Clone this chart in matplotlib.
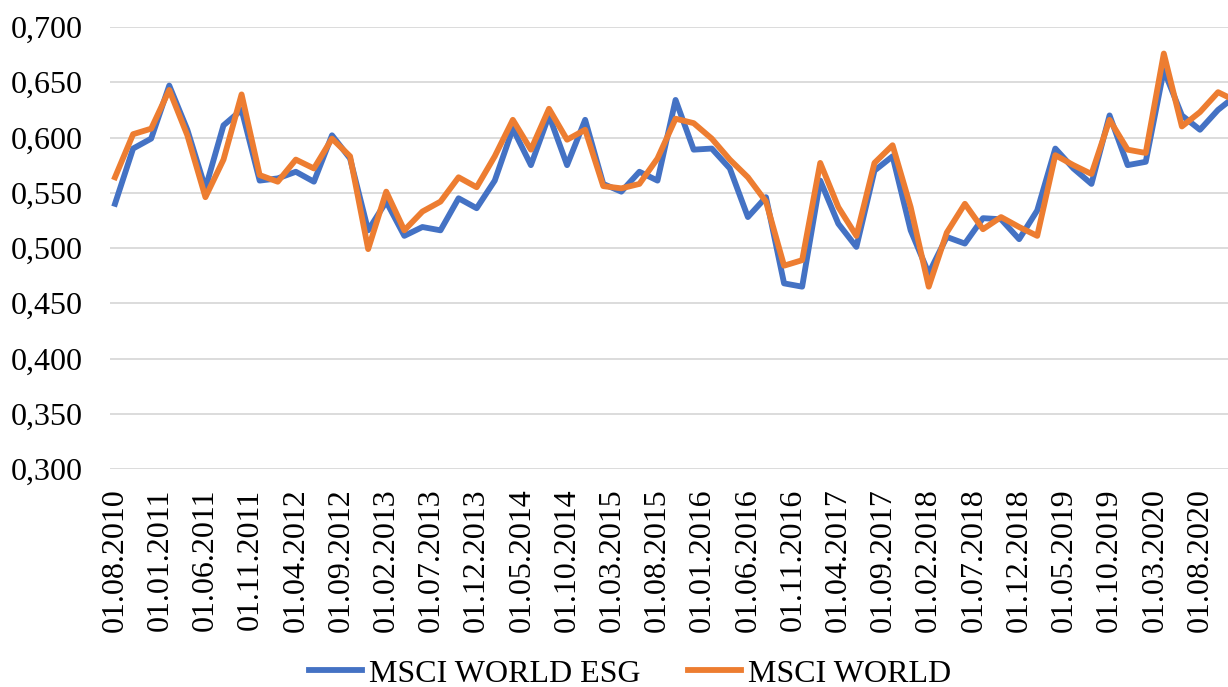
import numpy as np
import matplotlib
matplotlib.use("Agg")
import matplotlib.pyplot as plt

# bimonthly observations, 01.08.2010 .. 01.12.2020
esg_vals = [0.540, 0.590, 0.599, 0.647, 0.607, 0.554, 0.611, 0.625, 0.561,
            0.563, 0.569, 0.560, 0.602, 0.581, 0.516, 0.542, 0.511, 0.519,
            0.516, 0.545, 0.536, 0.561, 0.608, 0.575, 0.620, 0.575, 0.616,
            0.558, 0.551, 0.569, 0.561, 0.634, 0.589, 0.590, 0.572, 0.528,
            0.546, 0.468, 0.465, 0.561, 0.522, 0.501, 0.570, 0.583, 0.516,
            0.477, 0.510, 0.504, 0.527, 0.526, 0.508, 0.534, 0.590, 0.572,
            0.558, 0.620, 0.575, 0.578, 0.661, 0.620, 0.607, 0.625, 0.638]
world_vals = [0.564, 0.603, 0.608, 0.643, 0.602, 0.546, 0.580, 0.639, 0.566,
              0.560, 0.580, 0.572, 0.599, 0.583, 0.499, 0.551, 0.516, 0.533,
              0.542, 0.564, 0.555, 0.583, 0.616, 0.589, 0.626, 0.598, 0.607,
              0.556, 0.554, 0.558, 0.581, 0.617, 0.613, 0.599, 0.580, 0.564,
              0.542, 0.484, 0.489, 0.577, 0.537, 0.511, 0.577, 0.593, 0.537,
              0.465, 0.514, 0.540, 0.517, 0.528, 0.519, 0.511, 0.584, 0.575,
              0.567, 0.616, 0.589, 0.586, 0.676, 0.610, 0.623, 0.641, 0.633]

# axis labels every 5 months
tick_labels = ["01.08.2010", "01.01.2011", "01.06.2011", "01.11.2011",
               "01.04.2012", "01.09.2012", "01.02.2013", "01.07.2013",
               "01.12.2013", "01.05.2014", "01.10.2014", "01.03.2015",
               "01.08.2015", "01.01.2016", "01.06.2016", "01.11.2016",
               "01.04.2017", "01.09.2017", "01.02.2018", "01.07.2018",
               "01.12.2018", "01.05.2019", "01.10.2019", "01.03.2020",
               "01.08.2020"]
y_ticks = [0.30, 0.35, 0.40, 0.45, 0.50, 0.55, 0.60, 0.65, 0.70]

BLUE = "#4472C4"
ORANGE = "#ED7D31"


def main():
    plt.rcParams["font.family"] = ["Liberation Serif", "DejaVu Serif"]
    fig = plt.figure(figsize=(12.28, 6.87), dpi=100)
    ax = fig.add_axes([0.0896, 0.3173, 0.9104, 0.6434])

    months = np.arange(len(esg_vals)) * 2  # months since 01.08.2010
    ax.plot(months, esg_vals, color=BLUE, linewidth=4.2,
            solid_joinstyle="round", label="MSCI WORLD ESG")
    ax.plot(months, world_vals, color=ORANGE, linewidth=4.2,
            solid_joinstyle="round", label="MSCI WORLD")

    ax.set_ylim(0.3, 0.7)
    ax.set_xlim(-0.55, 123.1)
    ax.set_yticks(y_ticks)
    ax.set_yticklabels([("%.3f" % v).replace(".", ",") for v in y_ticks])
    ax.set_xticks(np.arange(len(tick_labels)) * 5)
    ax.set_xticklabels(tick_labels, rotation=90)
    ax.tick_params(axis="y", length=0, pad=20, labelsize=23)
    ax.tick_params(axis="x", length=0, pad=14, labelsize=23)

    ax.grid(axis="y", color="#D9D9D9", linewidth=1.3)
    ax.set_axisbelow(True)
    for sp in ax.spines.values():
        sp.set_visible(False)

    fig.legend(loc="center", bbox_to_anchor=(0.513, 0.019), ncol=2,
               frameon=False, fontsize=23, handlelength=1.66,
               handletextpad=0.2, columnspacing=1.5)

    fig.savefig("out.png", dpi=100)


if __name__ == "__main__":
    main()
